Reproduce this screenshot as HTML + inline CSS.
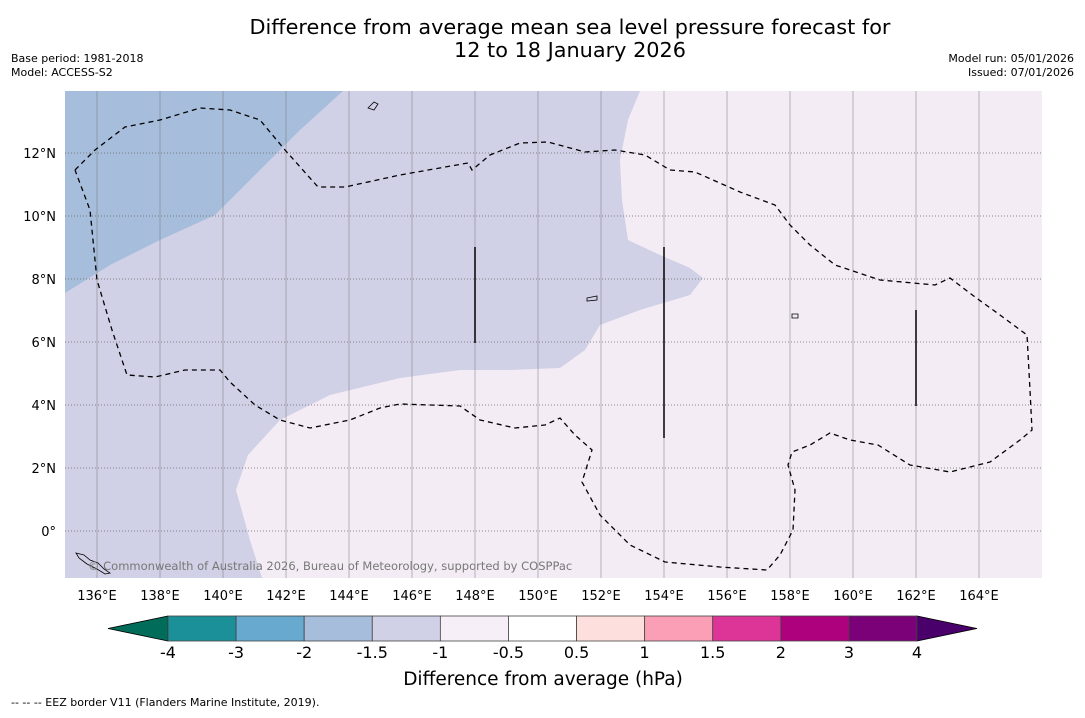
<!DOCTYPE html>
<html><head><meta charset="utf-8"><style>
body{margin:0;background:#fff;font-family:"Liberation Sans","DejaVu Sans",sans-serif;}
svg text{font-family:"DejaVu Sans","Liberation Sans",sans-serif;}
</style></head><body>
<svg id="c" width="1085" height="713" xmlns="http://www.w3.org/2000/svg">
<text x="570" y="34" font-size="20.8" text-anchor="middle">Difference from average mean sea level pressure forecast for</text>
<text x="570" y="57" font-size="20.8" text-anchor="middle">12 to 18 January 2026</text>
<text x="11" y="62" font-size="11">Base period: 1981-2018</text>
<text x="11" y="76" font-size="11">Model: ACCESS-S2</text>
<text x="1074" y="62" font-size="11" text-anchor="end">Model run: 05/01/2026</text>
<text x="1074" y="76" font-size="11" text-anchor="end">Issued: 07/01/2026</text>
<g id="map">
<rect x="65" y="91" width="977" height="487" fill="#d0d1e6"/>
<polygon fill="#a6bddb" points="65,91 343,91 300,130 260,170 215,215 160,240 110,265 65,293"/>
<polygon fill="#f4ecf5" points="640,91 1042,91 1042,578 262,578 250,540 236,490 248,455 280,420 330,395 400,378 460,370 510,370 560,368 585,350 600,325 640,310 690,295 703,278 690,268 660,255 628,240 622,200 620,160 628,120"/>
<g id="grid"></g>
<polyline fill="none" stroke="#000" stroke-width="1.3" stroke-dasharray="5,4" points="75,170 95,150 125,127 160,120 200,108 230,110 260,120 285,150 318,187 345,187 400,175 468,163 472,170 490,155 520,143 548,142 585,152 615,150 645,155 670,170 695,172 740,192 775,205 790,225 810,245 835,265 880,280 935,285 950,278 975,297 1000,315 1027,335 1030,390 1032,430 1020,440 990,462 950,472 910,465 878,445 850,440 830,433 810,445 792,452 788,465 795,490 793,530 780,555 767,570 720,567 665,562 630,545 600,515 582,482 592,450 575,435 560,418 545,425 515,428 480,420 460,406 400,404 380,408 350,420 310,428 280,420 255,405 230,382 220,370 185,370 155,377 127,375 112,330 97,280 93,240 90,210 75,170"/>
<line x1="475" y1="247" x2="475" y2="343" stroke="#000" stroke-width="1.5"/>
<line x1="664" y1="247" x2="664" y2="438" stroke="#000" stroke-width="1.5"/>
<line x1="916" y1="310" x2="916" y2="406" stroke="#000" stroke-width="1.5"/>
<path d="M76,553 l8,2 l6,5 l8,3 l6,6 l6,4 l-5,1 l-8,-5 l-10,-5 l-8,-6z M368,108 l6,-6 l4,2 l-4,6z M587,298 l10,-2 l0,4 l-10,1z M792,314 l6,0 l0,4 l-6,0z" fill="none" stroke="#000" stroke-width="0.8"/>
<text x="88" y="570" font-size="11.5" fill="#777">© Commonwealth of Australia 2026, Bureau of Meteorology, supported by COSPPac</text>
</g>
<g id="axes"></g>
<g id="cbar"></g>
<text x="543" y="685" font-size="18.5" text-anchor="middle">Difference from average (hPa)</text>
<text x="11" y="706" font-size="11">-- -- -- EEZ border V11 (Flanders Marine Institute, 2019).</text>
</svg>
<script>
const lonTicks=[136,138,140,142,144,146,148,150,152,154,156,158,160,162,164];
const latTicks=[0,2,4,6,8,10,12];
const cbarLevels=["-4","-3","-2","-1.5","-1","-0.5","0.5","1","1.5","2","3","4"];
const cbarColors=["#1c9099","#67a9cf","#a6bddb","#d0d1e6","#f6eff7","#ffffff","#fde0dd","#fa9fb5","#dd3497","#ae017e","#7a0177"];
const NS="http://www.w3.org/2000/svg";
const xs=lon=>97+(lon-136)*31.5;
const ys=lat=>531-lat*31.5;
function mk(tag,attrs,parent){const e=document.createElementNS(NS,tag);for(const k in attrs)e.setAttribute(k,attrs[k]);parent.appendChild(e);return e;}
const grid=document.getElementById('grid'),axes=document.getElementById('axes'),cb=document.getElementById('cbar');
lonTicks.forEach(l=>{
 const g=mk('line',{x1:xs(l),x2:xs(l),y1:91,y2:578,stroke:'#777','stroke-width':0.5},grid);
 
 
 const t=mk('text',{x:xs(l),y:600,'font-size':13,'text-anchor':'middle'},axes);t.textContent=l+'°E';
 
 
});
latTicks.forEach(l=>{
 const g=mk('line',{x1:65,x2:1042,y1:ys(l),y2:ys(l),stroke:'#666','stroke-width':0.7,'stroke-dasharray':'1,2'},grid);
 
 
 const t=mk('text',{x:56,y:ys(l)+5,'font-size':13,'text-anchor':'end'},axes);t.textContent=l===0?'0°':l+'°N';
 
 
});
const x0=168,x1=917,w=(x1-x0)/cbarColors.length,y0=616,h=25;
let tri=mk('polygon',{points:`${x0},${y0} ${x0},${y0+h} 108,${y0+h/2}`,fill:'#016c59',stroke:'#000','stroke-width':0.8},cb);


tri=mk('polygon',{points:`${x1},${y0} ${x1},${y0+h} 977,${y0+h/2}`,fill:'#49006a',stroke:'#000','stroke-width':0.8},cb);


cbarColors.forEach((c,i)=>{
 const r=mk('rect',{x:x0+i*w,y:y0,width:w,height:h,fill:c,stroke:'#444','stroke-width':0.8},cb);
 
 
});
cbarLevels.forEach((s,i)=>{
 const t=mk('text',{x:x0+i*w,y:658,'font-size':16,'text-anchor':'middle'},cb);t.textContent=s;
 
 
});
</script>
</body></html>
